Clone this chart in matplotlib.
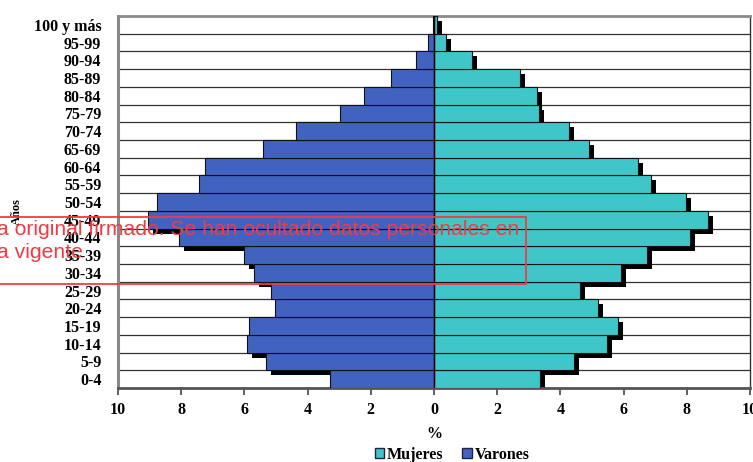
import matplotlib
matplotlib.use("Agg")
import matplotlib.pyplot as plt
import matplotlib.transforms as mtrans
from matplotlib.patches import Rectangle, Patch
import numpy as np

# age groups, bottom to top
grupos = ["0-4", "5-9", "10-14", "15-19", "20-24", "25-29", "30-34", "35-39",
          "40-44", "45-49", "50-54", "55-59", "60-64", "65-69", "70-74",
          "75-79", "80-84", "85-89", "90-94", "95-99", "100 y más"]

# % of population
varones = [3.29, 5.32, 5.92, 5.85, 5.03, 5.16, 5.70, 6.00, 8.07, 9.05, 8.77,
           7.44, 7.25, 5.41, 4.37, 2.97, 2.20, 1.36, 0.57, 0.19, 0.04]
mujeres = [3.35, 4.43, 5.47, 5.82, 5.19, 4.62, 5.92, 6.74, 8.10, 8.68, 7.97,
           6.87, 6.46, 4.90, 4.27, 3.32, 3.26, 2.72, 1.20, 0.38, 0.08]

xticks = [-10, -8, -6, -4, -2, 0, 2, 4, 6, 8, 10]

azul = "#4262bf"
turquesa = "#3fc6c8"
rojo = "#f23a44"

serif = "Liberation Serif"

fig = plt.figure(figsize=(7.53, 4.62), dpi=100)
ax = fig.add_axes([118 / 753, 1 - 388 / 462, (750 - 118) / 753, (388 - 16) / 462])

y = np.arange(len(grupos))
men = -np.array(varones)
women = np.array(mujeres)

# drop shadow: same bars shifted 5px right, 5px down
shift = ax.transData + mtrans.ScaledTranslation(5 / 100, -5 / 100, fig.dpi_scale_trans)
ax.barh(y, men, height=1.0, color="black", transform=shift, zorder=2)
ax.barh(y, women, height=1.0, color="black", transform=shift, zorder=2)

ax.barh(y, men, height=1.0, color=azul, edgecolor="#111111", linewidth=0.8, zorder=3)
ax.barh(y, women, height=1.0, color=turquesa, edgecolor="#111111", linewidth=0.8, zorder=3)

ax.axvline(0, color="black", linewidth=1.0, zorder=4)
for yy in np.arange(-0.5, len(grupos), 1.0):
    ax.axhline(yy, color="#333333", linewidth=0.9, zorder=1)

ax.set_xlim(-10, 10)
ax.set_ylim(-0.5, len(grupos) - 0.5)
ax.set_yticks(y)
ax.set_yticklabels(grupos, fontfamily=serif, fontweight="bold", fontsize=11.5)
ax.tick_params(axis="y", length=0, pad=12)
ax.set_xticks(xticks)
ax.set_xticklabels([str(abs(t)) for t in xticks], fontfamily=serif,
                   fontweight="bold", fontsize=11.5)
ax.tick_params(axis="x", length=5, width=1.2, color="#444444", pad=5)
ax.set_xlabel("%", fontfamily=serif, fontweight="bold", fontsize=11.5, labelpad=6)

ax.spines["left"].set_color("#8a8a8a")
ax.spines["left"].set_linewidth(2.2)
ax.spines["top"].set_color("#8a8a8a")
ax.spines["top"].set_linewidth(2.0)
ax.spines["bottom"].set_color("#555555")
ax.spines["bottom"].set_linewidth(2.0)
ax.spines["right"].set_color("#333333")
ax.spines["right"].set_linewidth(1.0)

fig.text(17 / 753, 1 - 212 / 462, "Años", rotation=90, ha="center", va="center",
         fontfamily=serif, fontweight="bold", fontsize=9)

handles = [Patch(facecolor=turquesa, edgecolor="#222244", linewidth=1.0),
           Patch(facecolor=azul, edgecolor="#222244", linewidth=1.0)]
fig.legend(handles, ["Mujeres", "Varones"], loc="center",
           bbox_to_anchor=(452 / 753, 1 - 455 / 462), ncol=2, frameon=False,
           handlelength=0.6, handleheight=0.6, handletextpad=0.15,
           columnspacing=1.2, prop={"family": serif, "weight": "bold", "size": 11.5})

# red overlay of the scanned document
fig.patches.append(Rectangle((-10 / 753, 1 - 284 / 462), 536 / 753, 67 / 462,
                             transform=fig.transFigure, fill=False,
                             edgecolor=rojo, linewidth=1.3, zorder=10))
fig.text(-3 / 753, 1 - 229 / 462,
         "a original firmado. Se han ocultado datos personales en",
         ha="left", va="center", color=rojo, fontfamily="Liberation Sans",
         fontsize=15.2, zorder=11)
fig.text(-3 / 753, 1 - 252 / 462, "a vigente", ha="left", va="center",
         color=rojo, fontfamily="Liberation Sans", fontsize=15.2, zorder=11)

fig.savefig("out.png", dpi=100)
